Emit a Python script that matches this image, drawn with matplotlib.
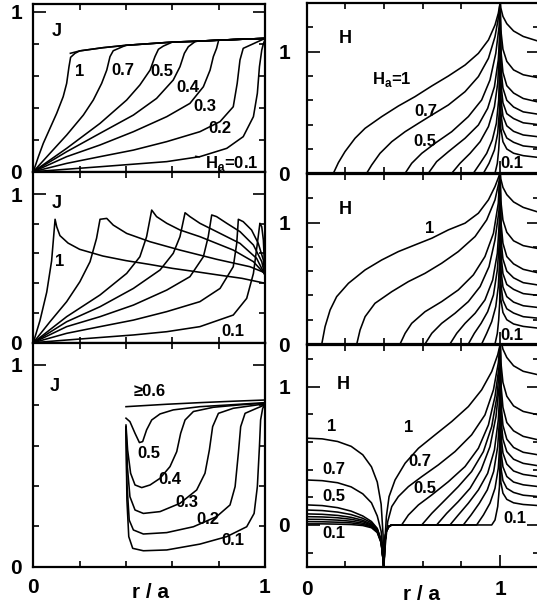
import numpy as np
import matplotlib
matplotlib.use("Agg")
import matplotlib.pyplot as plt
from matplotlib.ticker import MultipleLocator

plt.rcParams['font.family'] = ['Liberation Sans', 'DejaVu Sans']
plt.rcParams['font.weight'] = 'bold'
plt.rcParams['mathtext.fontset'] = 'custom'
plt.rcParams['mathtext.rm'] = 'Liberation Sans:bold'

# ---------------- data ----------------
# left top: J(r) for increasing field, common saturated part
ENV_X = [0.16, 0.2, 0.3, 0.4, 0.5, 0.6, 0.7, 0.8, 0.9, 1.0]
ENV_Y = [0.74, 0.755, 0.775, 0.79, 0.80, 0.81, 0.815, 0.822, 0.828, 0.833]

J1_X = [
    [0, .022, .043, .072, .101, .129, .144, .154, .161, .18],
    [0, .072, .144, .216, .259, .295, .317, .331, .345, .388],
    [0, .144, .288, .403, .46, .504, .525, .54, .561],
    [0, .144, .288, .432, .532, .604, .633, .652, .669],
    [0, .144, .288, .432, .576, .676, .734, .763, .777, .791],
    [0, .144, .288, .432, .576, .719, .806, .863, .88, .892, .906],
    [0, .288, .576, .719, .835, .906, .95, .967, .976, .986, .993, 1.0],
]
J1_Y = [
    [0, .094, .177, .271, .365, .469, .552, .656, .715, .74],
    [0, .115, .229, .354, .448, .552, .635, .719, .756, .783],
    [0, .146, .302, .448, .542, .635, .719, .765, .785],
    [0, .125, .24, .354, .458, .573, .656, .74, .781],
    [0, .094, .167, .25, .344, .427, .531, .635, .719, .771],
    [0, .052, .094, .135, .188, .25, .313, .406, .552, .698, .771],
    [0, .031, .063, .094, .146, .219, .344, .49, .656, .76, .80, .825],
]

# left middle
J2_X = [
    [0, .029, .058, .079, .094, .101, .115, .15, .2, .3, .4, .5, .6, .7, .8, .9, 1.0],
    [0, .072, .144, .201, .245, .273, .288, .317, .345, .403, .504, .633, .791, .935, 1.0],
    [0, .144, .288, .403, .46, .489, .511, .532, .576, .633, .719, .863, .95, 1.0],
    [0, .144, .288, .432, .547, .604, .633, .655, .676, .719, .791, .892, .964, 1.0],
    [0, .144, .288, .432, .576, .676, .734, .755, .77, .791, .835, .892, .95, .986, 1.0],
    [0, .144, .288, .432, .576, .719, .806, .863, .878, .885, .906, .942, .971, .993, 1.0],
    [0, .144, .432, .576, .719, .863, .921, .95, .967, .978, .986, .993, 1.0],
]
J2_Y = [
    [0, .15, .34, .55, .83, .78, .72, .67, .628, .583, .552, .527, .50, .478, .455, .433, .40],
    [0, .141, .276, .41, .545, .702, .83, .836, .791, .735, .679, .623, .561, .511, .47],
    [0, .175, .321, .466, .578, .713, .892, .848, .803, .758, .713, .623, .545, .46],
    [0, .141, .242, .365, .489, .601, .713, .874, .848, .803, .747, .668, .567, .455],
    [0, .108, .175, .253, .354, .444, .578, .713, .859, .848, .803, .747, .657, .545, .45],
    [0, .063, .108, .152, .209, .276, .365, .511, .668, .83, .814, .758, .668, .556, .445],
    [0, .018, .052, .074, .108, .186, .298, .466, .668, .803, .78, .69, .44],
]

# left bottom
J3_X = [
    [.4, .576, .719, .863, 1.0],
    [.4, .417, .439, .458, .472, .489, .511, .547, .604, .719, .863, 1.0],
    [.4, .407, .42, .439, .468, .504, .547, .59, .619, .636, .655, .691, .777, .892, 1.0],
    [.4, .406, .417, .439, .475, .547, .633, .705, .741, .76, .774, .799, .863, 1.0],
    [.4, .404, .414, .432, .475, .576, .691, .791, .849, .871, .885, .895, .914, .964, 1.0],
    [.4, .404, .412, .429, .475, .576, .719, .835, .921, .953, .967, .976, .981, .99, 1.0],
]
J3_Y = [
    [.793, .805, .813, .82, .826],
    [.736, .719, .661, .615, .62, .678, .727, .757, .777, .793, .803, .813],
    [.702, .579, .463, .405, .392, .405, .438, .496, .57, .661, .727, .769, .79, .802, .81],
    [.694, .496, .347, .281, .264, .273, .314, .38, .463, .579, .694, .76, .785, .807],
    [.691, .413, .231, .182, .162, .169, .198, .248, .306, .397, .562, .694, .76, .785, .802],
    [.686, .331, .149, .091, .079, .083, .112, .149, .198, .264, .397, .595, .727, .785, .802],
]

# right panels: field outside the edge r = 1 (common r grid)
OUT_X = [1.0, 1.004, 1.015, 1.035, 1.07, 1.12, 1.2]
H_OUT_Y = [
    [1.45, 1.36, 1.29, 1.23, 1.17, 1.125, 1.085],
    [1.45, 1.18, 1.02, .92, .85, .81, .785],
    [1.45, 1.02, .83, .72, .66, .615, .585],
    [1.45, .88, .70, .60, .545, .505, .485],
    [1.45, .75, .58, .49, .45, .415, .40],
    [1.45, .62, .47, .39, .345, .315, .30],
    [1.45, .50, .36, .29, .255, .225, .212],
    [1.45, .37, .26, .20, .165, .145, .13],
]
H3_OUT_Y = [
    [1.45, 1.34, 1.27, 1.21, 1.15, 1.11, 1.084],
    [1.45, 1.18, 1.03, .93, .86, .82, .795],
    [1.45, 1.03, .85, .74, .68, .64, .614],
    [1.45, .90, .72, .62, .56, .525, .506],
    [1.45, .78, .62, .53, .475, .445, .427],
    [1.45, .66, .52, .44, .39, .365, .349],
    [1.45, .54, .42, .35, .31, .29, .277],
    [1.45, .42, .32, .265, .235, .215, .205],
    [1.45, .31, .23, .185, .16, .148, .14],
]

# right top: H inside the disk
H1_X = [
    [.138, .164, .198, .25, .302, .388, .474, .56, .647, .733, .819, .888, .94, .974, .991, 1.0],
    [.31, .336, .379, .44, .509, .578, .647, .733, .819, .888, .94, .974, .991, 1.0],
    [.509, .543, .595, .664, .75, .836, .905, .948, .978, .995, 1.0],
    [.629, .672, .733, .819, .888, .936, .971, .991, 1.0],
    [.75, .793, .845, .897, .94, .971, .988, .997, 1.0],
    [.862, .897, .931, .96, .981, .993, .998],
    [.914, .943, .971, .988, .997, 1.0],
    [.974, .986, .993, .998, 1.0],
]
H1_Y = [
    [0, .088, .178, .288, .37, .466, .553, .63, .718, .8, .89, .986, 1.096, 1.219, 1.315, 1.397],
    [0, .068, .164, .26, .342, .411, .479, .562, .671, .795, .945, 1.123, 1.274, 1.397],
    [0, .082, .164, .247, .342, .466, .603, .767, .986, 1.205, 1.397],
    [0, .096, .178, .288, .397, .534, .712, .932, 1.178],
    [0, .082, .164, .26, .384, .548, .74, 1.014, 1.288],
    [0, .082, .164, .274, .411, .603, .877],
    [0, .082, .192, .329, .521, .74],
    [0, .082, .192, .329, .493],
]

# right middle
H2_X = [
    [.078, .095, .121, .155, .216, .302, .388, .474, .56, .647, .733, .819, .888, .94, .974, .997],
    [.259, .276, .302, .353, .44, .526, .612, .698, .784, .871, .931, .974, .997],
    [.483, .509, .543, .612, .698, .784, .862, .922, .966, .991],
    [.612, .647, .698, .767, .836, .897, .943, .974, .995],
    [.741, .776, .819, .871, .922, .962, .986, .997],
    [.836, .867, .902, .936, .966, .986, .997],
    [.905, .931, .957, .978, .991, .998],
    [.974, .986, .993, .998, 1.0],
]
H2_Y = [
    [0, .143, .28, .39, .50, .61, .692, .761, .816, .871, .94, .995, 1.077, 1.187, 1.297, 1.393],
    [0, .115, .225, .335, .431, .514, .582, .665, .761, .885, 1.022, 1.187, 1.352],
    [0, .088, .17, .266, .349, .445, .569, .72, .912, 1.159],
    [0, .088, .17, .253, .349, .473, .637, .857, 1.104],
    [0, .088, .17, .253, .363, .527, .747, 1.022],
    [0, .088, .17, .266, .404, .61, .857],
    [0, .088, .184, .308, .473, .692],
    [0, .088, .198, .335, .5],
]

# right bottom: ring with hole r < 0.4
DOME_X = [0, .08, .16, .23, .29, .335, .365, .385, .395, .399]
DOME_Y = [
    [.627, .622, .603, .568, .507, .42, .31, .15, -.07, -.32],
    [.325, .32, .305, .275, .225, .16, .065, -.045, -.2, -.32],
    [.145, .14, .125, .10, .065, .025, -.025, -.11, -.24, -.32],
    [.108, .104, .093, .075, .048, .015, -.03, -.11, -.24, -.32],
    [.080, .077, .069, .055, .034, .005, -.035, -.115, -.245, -.32],
    [.060, .058, .052, .041, .024, -.002, -.04, -.12, -.25, -.32],
    [.041, .040, .035, .027, .013, -.008, -.045, -.12, -.25, -.32],
    [.024, .023, .020, .015, .004, -.013, -.05, -.125, -.25, -.32],
    [.008, .008, .006, .003, -.004, -.02, -.055, -.13, -.25, -.32],
]
CUSP_X = [.399, .403, .41, .425, .44]
CUSP_Y = [-.32, -.15, -.05, -.01, 0]
H3_X = [
    [.399, .402, .405, .412, .426, .457, .509, .578, .664, .75, .836, .905, .957, .988, 1.0],
    [.399, .403, .409, .419, .44, .474, .526, .595, .681, .767, .853, .922, .966, .991, 1.0],
    [.491, .526, .578, .647, .733, .819, .888, .94, .974, .995, 1.0],
    [.595, .647, .716, .784, .853, .914, .957, .984, .998],
    [.672, .724, .784, .845, .902, .948, .979, .997],
    [.741, .784, .836, .888, .936, .971, .991, 1.0],
    [.81, .85, .893, .934, .967, .988, .998],
    [.879, .914, .948, .974, .991, 1.0],
    [.957, .974, .988, .997, 1.0],
]
H3_Y = [
    [-.32, -.2, -.108, .06, .205, .325, .446, .554, .651, .747, .855, .976, 1.108, 1.229, 1.301],
    [-.32, -.2, -.108, .024, .133, .205, .277, .349, .434, .53, .651, .795, .976, 1.169, 1.301],
    [0, .072, .145, .217, .313, .422, .554, .723, .928, 1.145, 1.301],
    [0, .084, .181, .277, .386, .53, .711, .928, 1.145],
    [0, .084, .169, .265, .398, .566, .783, 1.024],
    [0, .072, .157, .253, .373, .542, .759, .976],
    [0, .072, .157, .253, .386, .566, .783],
    [0, .072, .157, .265, .41, .614],
    [0, .036, .133, .277, .446],
]

# ---------------- figure ----------------
W, H = 537, 611
fig = plt.figure(figsize=(W / 100, H / 100), dpi=100)
LW = 1.15


def add_axes(x0, x1, y0, y1):
    return fig.add_axes([x0 / W, 1 - y1 / H, (x1 - x0) / W, (y1 - y0) / H])


def style(ax, xlim, ylim, xlabels, ypad, xpad):
    ax.set_xlim(*xlim)
    ax.set_ylim(*ylim)
    ax.set_xticks([0, 1], ['0', '1'])
    ax.set_yticks([0, 1], ['0', '1'])
    ax.xaxis.set_minor_locator(MultipleLocator(0.2))
    ax.yaxis.set_minor_locator(MultipleLocator(0.2))
    ax.tick_params(which='both', direction='in', top=True, right=True,
                   width=1.2, labelsize=15)
    ax.tick_params(which='major', length=9)
    ax.tick_params(which='minor', length=4.5)
    ax.tick_params(axis='y', pad=ypad)
    ax.tick_params(axis='x', pad=xpad, labelbottom=xlabels)
    for s in ax.spines.values():
        s.set_linewidth(1.6)


def lab(ax, x, y, s, size=12):
    ax.text(x, y, s, fontsize=size, ha='center', va='center')


# left column
axJ1 = add_axes(33.3, 265, 3.7, 171.7)
axJ2 = add_axes(33.3, 265, 171.7, 342.7)
axJ3 = add_axes(33.3, 265, 342.7, 566.7)
style(axJ1, (0, 1), (0, 1.05), False, 8, 8)
style(axJ2, (0, 1), (0, 1.15), False, 8, 8)
style(axJ3, (0, 1), (0, 1.11), True, 8, 8)

for xs, ys in zip(J1_X, J1_Y):
    ex = [e for e in ENV_X if e > xs[-1]]
    ey = ENV_Y[len(ENV_X) - len(ex):]
    axJ1.plot(list(xs) + ex, list(ys) + ey, color='black', lw=LW)
axJ1.plot(ENV_X, ENV_Y, color='black', lw=LW)
for xs, ys in zip(J2_X, J2_Y):
    axJ2.plot(xs, ys, color='black', lw=LW)
for xs, ys in zip(J3_X, J3_Y):
    axJ3.plot(xs, ys, color='black', lw=LW)

lab(axJ1, .10, .875, 'J', 13)
for x, y, s in [(.201, .625, '1'), (.388, .635, '0.7'), (.554, .625, '0.5'),
                (.669, .527, '0.4'), (.741, .406, '0.3'), (.806, .271, '0.2')]:
    lab(axJ1, x, y, s)
axJ1.annotate(r'H$_\mathrm{a}$=0.1', xy=(.70, .097), xytext=(.856, .052),
              fontsize=12, ha='center', va='center',
              arrowprops=dict(arrowstyle='-', lw=1.0, shrinkA=2, shrinkB=0))

lab(axJ2, .101, .937, 'J', 13)
lab(axJ2, .112, .545, '1')
lab(axJ2, .863, .074, '0.1')

lab(axJ3, .094, .892, 'J', 13)
for x, y, s in [(.504, .868, '≥0.6'), (.497, .562, '0.5'), (.59, .43, '0.4'),
                (.662, .317, '0.3'), (.755, .232, '0.2'), (.863, .132, '0.1')]:
    lab(axJ3, x, y, s)

# right column
axH1 = add_axes(306.7, 538.7, 3.0, 173.3)
axH2 = add_axes(306.7, 538.7, 174.0, 344.0)
axH3 = add_axes(306.7, 538.7, 345.0, 566.5)
style(axH1, (0, 1.2), (0, 1.4), False, 12, 10)
style(axH2, (0, 1.2), (0, 1.4), False, 12, 10)
style(axH3, (0, 1.2), (-0.3, 1.3), True, 12, 10)

for ax, XS, YS, OUT in [(axH1, H1_X, H1_Y, H_OUT_Y), (axH2, H2_X, H2_Y, H_OUT_Y)]:
    for xs, ys, oy in zip(XS, YS, OUT):
        axx = list(xs) + OUT_X
        axy = list(ys) + oy
        ax.plot(axx, axy, color='black', lw=LW)

for ys in DOME_Y:
    axH3.plot(DOME_X, ys, color='black', lw=LW)
for i, (xs, ys, oy) in enumerate(zip(H3_X, H3_Y, H3_OUT_Y)):
    px, py = list(xs), list(ys)
    if i >= 2:
        px = CUSP_X + px
        py = CUSP_Y + py
    axH3.plot(px + OUT_X, py + oy, color='black', lw=LW)

lab(axH1, .198, 1.11, 'H', 13)
lab(axH1, .44, .767, r'H$_\mathrm{a}$=1')
lab(axH1, .617, .506, '0.7')
lab(axH1, .612, .26, '0.5')
lab(axH1, 1.06, .082, '0.1')

lab(axH2, .198, 1.105, 'H', 13)
lab(axH2, .638, .954, '1')
lab(axH2, 1.06, .074, '0.1')

lab(axH3, .19, 1.012, 'H', 13)
for x, y, s in [(.129, .711, '1'), (.526, .706, '1'), (.138, .398, '0.7'),
                (.586, .458, '0.7'), (.138, .205, '0.5'), (.612, .265, '0.5'),
                (.138, -.06, '0.1'), (1.078, .048, '0.1')]:
    lab(axH3, x, y, s)

fig.text(150 / W, 1 - 592 / H, 'r / a', fontsize=15, ha='center', va='center')
fig.text(421.7 / W, 1 - 595 / H, 'r / a', fontsize=15, ha='center', va='center')

fig.savefig('out.png', dpi=100)
